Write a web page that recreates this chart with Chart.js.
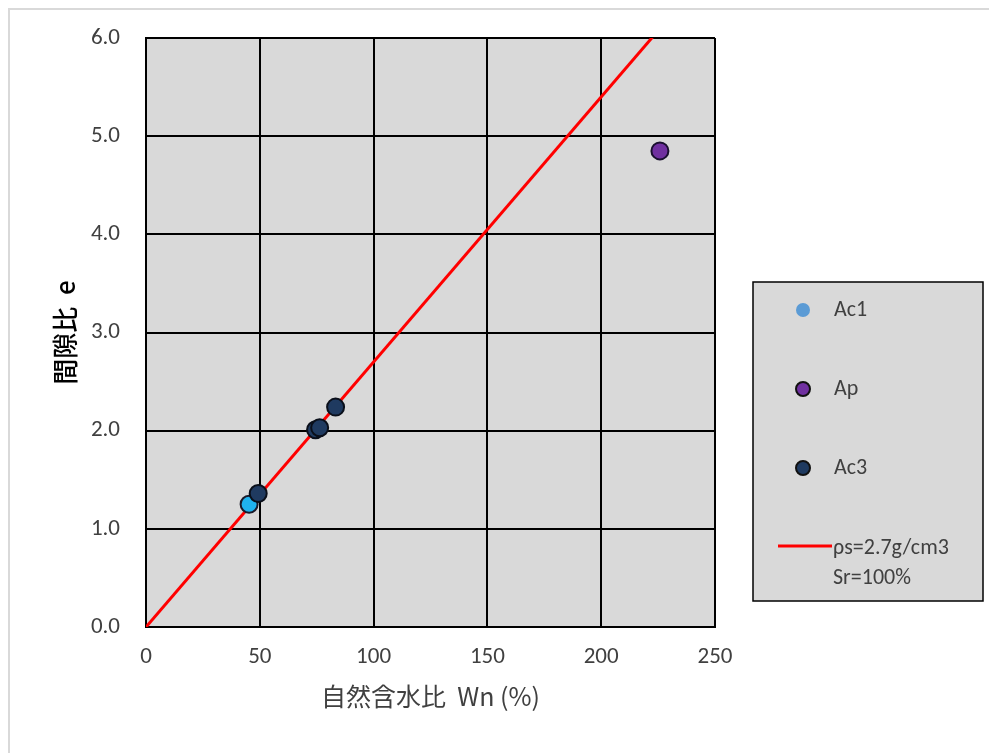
<!DOCTYPE html>
<html>
<head>
<meta charset="utf-8">
<script src="https://cdn.jsdelivr.net/npm/chart.js@4.4.0/dist/chart.umd.min.js"></script>
<style>
  body { margin: 0; background: #fff; }
  #frame { position: absolute; left: 8px; top: 8px; width: 1000px; height: 800px; border: 2px solid #d9d9d9; }
  #wrap { position: absolute; left: 0; top: 0; width: 989px; height: 753px; }
</style>
</head>
<body>
<div id="frame"></div>
<div id="wrap"><canvas id="myChart" width="989" height="753"></canvas></div>
<script>
const ac1W = [45.3];
const ac1E = [1.25];
const apW = [225.8];
const apE = [4.85];
const ac3W = [49.3, 74.5, 76.3, 83.3];
const ac3E = [1.36, 2.01, 2.03, 2.24];
// saturation line  rho_s = 2.7 g/cm3, Sr = 100%
const lineW = [0, 250];
const lineE = [0, 6.75];

const xTicks = [0, 50, 100, 150, 200, 250];
const yTicks = [0, 1, 2, 3, 4, 5, 6];

const toXY = (xs, ys) => xs.map((x, i) => ({ x: x, y: ys[i] }));
const txtColor = '#404040';
const latin = "Carlito, Lato, 'Noto Sans CJK JP', sans-serif";
const tickFont = { family: latin, size: 23 };

// grey plot area
const plotBg = {
  id: 'plotBg',
  beforeDraw(chart) {
    const { ctx, chartArea: a } = chart;
    ctx.save();
    ctx.fillStyle = '#d9d9d9';
    ctx.fillRect(a.left, a.top, a.right - a.left, a.bottom - a.top);
    ctx.restore();
  }
};

// legend box on the right, like the Excel one
const sideLegend = {
  id: 'sideLegend',
  afterDraw(chart) {
    const ctx = chart.ctx;
    const bx = 753, by = 282, bw = 230, bh = 319;
    ctx.save();
    ctx.fillStyle = '#d9d9d9';
    ctx.fillRect(bx, by, bw, bh);
    ctx.strokeStyle = '#000';
    ctx.lineWidth = 1.5;
    ctx.strokeRect(bx, by, bw, bh);
    ctx.font = '22px ' + latin;
    ctx.textBaseline = 'middle';
    ctx.fillStyle = txtColor;
    const rows = [310, 389, 468];
    chart.data.datasets.forEach((ds, i) => {
      if (ds.type === 'line') return;
      const y = rows[i];
      ctx.beginPath();
      ctx.arc(803, y, 7, 0, Math.PI * 2);
      ctx.fillStyle = ds.legendColor || ds.backgroundColor;
      ctx.fill();
      if (ds.legendBorder) {
        ctx.lineWidth = 2;
        ctx.strokeStyle = ds.legendBorder;
        ctx.stroke();
      }
      ctx.fillStyle = txtColor;
      ctx.fillText(ds.label, 834, y);
    });
    ctx.beginPath();
    ctx.moveTo(778, 546);
    ctx.lineTo(832, 546);
    ctx.strokeStyle = '#ff0000';
    ctx.lineWidth = 3;
    ctx.stroke();
    ctx.fillStyle = txtColor;
    ctx.fillText('ρs=2.7g/cm3', 833, 548);
    ctx.fillText('Sr=100%', 833, 578);
    ctx.restore();
  }
};

var ctx = document.getElementById('myChart').getContext('2d');
new Chart(ctx, {
  type: 'scatter',
  data: {
    datasets: [{
      label: 'Ac1',
      data: toXY(ac1W, ac1E),
      backgroundColor: '#1fb2ee',
      borderColor: '#1a1a2a',
      borderWidth: 2,
      pointRadius: 8.5,
      legendColor: '#5b9bd5',
      order: 2
    }, {
      label: 'Ap',
      data: toXY(apW, apE),
      backgroundColor: '#7030a0',
      borderColor: '#1a1030',
      borderWidth: 2,
      pointRadius: 8.5,
      legendColor: '#7030a0',
      legendBorder: '#111',
      order: 2
    }, {
      label: 'Ac3',
      data: toXY(ac3W, ac3E),
      backgroundColor: '#1f3a60',
      borderColor: '#0a0f1a',
      borderWidth: 2,
      pointRadius: 8.5,
      legendColor: '#1f3a60',
      legendBorder: '#111',
      order: 1
    }, {
      type: 'line',
      label: 'ρs=2.7g/cm3 Sr=100%',
      data: toXY(lineW, lineE),
      borderColor: '#ff0000',
      borderWidth: 3,
      pointRadius: 0,
      fill: false,
      order: 5
    }]
  },
  options: {
    responsive: false,
    animation: false,
    layout: { padding: { left: 0, top: 38, right: 274, bottom: 0 } },
    plugins: { legend: { display: false }, tooltip: { enabled: false } },
    scales: {
      x: {
        type: 'linear',
        min: 0, max: 250,
        afterFit(s) { s.height = 753 - 627; s.paddingLeft = 0; s.paddingRight = 0; },
        afterBuildTicks(s) { s.ticks = xTicks.map(v => ({ value: v })); },
        ticks: { color: txtColor, font: tickFont, padding: 16 },
        grid: { color: '#000', lineWidth: 2, drawTicks: false },
        border: { color: '#000', width: 2 },
        title: {
          display: true,
          text: '自然含水比  Wn (%)',
          color: txtColor,
          font: { family: "'Noto Sans CJK JP', sans-serif", size: 25 },
          padding: { top: 0, bottom: 42 }
        }
      },
      y: {
        type: 'linear',
        min: 0, max: 6,
        afterFit(s) { s.width = 146; s.paddingTop = 0; s.paddingBottom = 0; },
        afterBuildTicks(s) { s.ticks = yTicks.map(v => ({ value: v })); },
        ticks: { color: txtColor, font: tickFont, padding: 26, callback: v => v.toFixed(1) },
        grid: { color: '#000', lineWidth: 2, drawTicks: false },
        border: { color: '#000', width: 2 },
        title: {
          display: true,
          text: '間隙比  e',
          color: '#000',
          font: { family: "'Noto Sans CJK JP', sans-serif", size: 26, weight: '500' },
          padding: { top: 50, bottom: 0 }
        }
      }
    }
  },
  plugins: [plotBg, sideLegend]
});
</script>
</body>
</html>
